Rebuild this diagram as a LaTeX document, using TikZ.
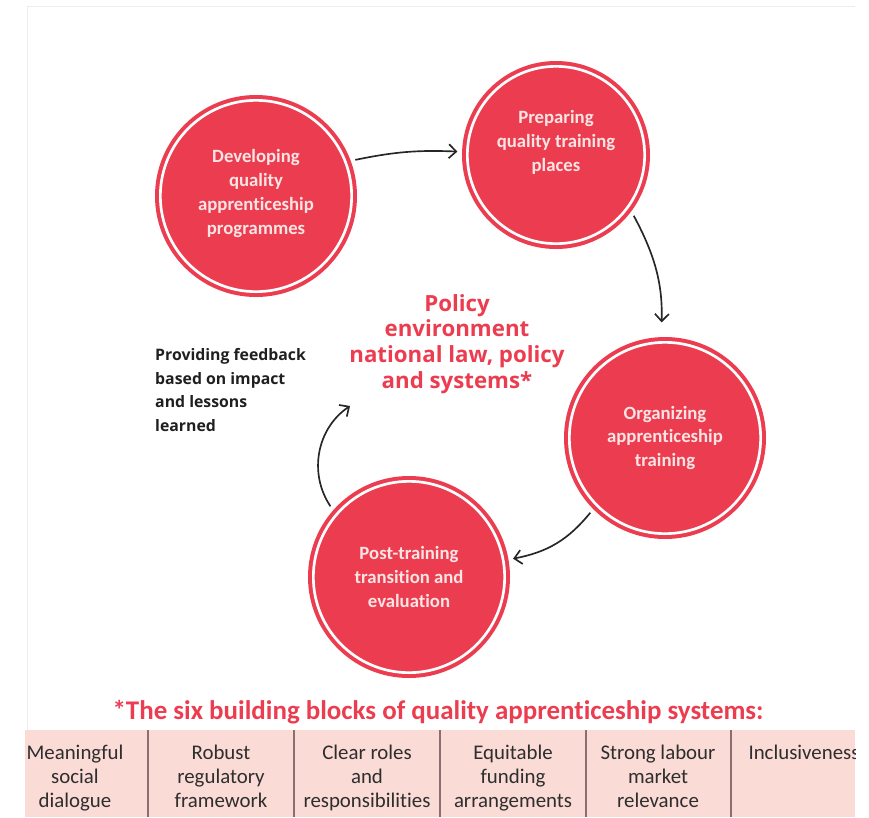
\documentclass[tikz,border=0pt]{standalone}
\usepackage{fontspec}
\setmainfont{Carlito}[Ligatures=NoCommon]
\newfontfamily\opensans{Open Sans}
\usetikzlibrary{arrows.meta}

\definecolor{blockred}{HTML}{EC3D50}
\definecolor{stagetext}{HTML}{FBE4E4}
\definecolor{tablefill}{HTML}{FADBD6}
\definecolor{tablerule}{HTML}{8C6E6E}
\definecolor{tableink}{HTML}{2E2E2E}

\tikzset{
	stage/.style={circle, fill=blockred, draw=blockred, line width=1.2mm,
		double=white, double distance=0.8mm, minimum size=#1, inner sep=0pt,
		outer sep=3mm, text=stagetext, align=center,
		font=\bfseries\fontsize{16}{20.4}\selectfont},
	stage/.default=57.4mm,
	flow/.style={-{Straight Barb[length=2.2mm,width=4.2mm]}, line width=0.5mm, black!85},
	policy/.style={text=blockred, align=center, font=\opensans\bfseries\fontsize{19}{22}\selectfont},
	feedback/.style={text=black!88, align=left, anchor=west, inner sep=0pt,
		font=\opensans\bfseries\fontsize{13.5}{20.4}\selectfont},
	blocktitle/.style={text=blockred, font=\bfseries\fontsize{23}{26}\selectfont},
	blockcell/.style={text=tableink, align=center, anchor=north, inner sep=0pt,
		font=\fontsize{17.8}{20.4}\selectfont}
}

\begin{document}
\begin{tikzpicture}[x=0.3mm, y=-0.3mm]
	%%%%% START %%%%%
	\useasboundingbox (0, 0) rectangle (869, 817);
	
	\draw[black!7] (27, 817) -- (27, 6) -- (855, 6);
	
	\node[stage] (dev) at (256, 196) {Developing\\quality\\apprenticeship\\programmes\\[-14pt]\mbox{}};
	\node[stage=53.2mm] (prep) at (556, 155) {Preparing\\quality training\\places\\[3pt]\mbox{}};
	\node[stage] (org) at (665, 438) {Organizing\\apprenticeship\\training};
	\node[stage] (post) at (409, 577) {Post-training\\transition and\\evaluation};
	
	\node[policy] (env) at (457, 344) {Policy\\environment\\national law, policy\\and systems*};
	\node[feedback] (fbtext) at (155, 390) {Providing feedback\\based on impact\\and lessons\\learned};
	\coordinate (fbend) at (350, 406);
	
	\draw[flow] (dev.20) to[bend left=7] (prep.178);
	\draw[flow, shorten >=3mm] (prep.-38) to[bend left=15] (org.92);
	\draw[flow] (org.-135) to[bend left=20] (post.10);
	\draw[flow] (post.138) to[bend left=45] (fbend);
	
	% building blocks
	\node[blocktitle] (blocks) at (438, 712) {*The six building blocks of quality apprenticeship systems:};
	
	\begin{scope}
		\clip (25, 730) rectangle (855, 817);
		\fill[tablefill] (25, 730) rectangle (855, 817);
		\foreach \x in {148, 294, 440, 586, 731}
			\draw[tablerule, line width=0.35mm] (\x, 730) -- (\x, 817);
		\node[blockcell] (b1) at (75, 745) {Meaningful\\social\\dialogue};
		\node[blockcell] (b2) at (221, 745) {Robust\\regulatory\\framework};
		\node[blockcell] (b3) at (367, 745) {Clear roles\\and\\responsibilities};
		\node[blockcell] (b4) at (513, 745) {Equitable\\funding\\arrangements};
		\node[blockcell] (b5) at (658, 745) {Strong labour\\market\\relevance};
		\node[blockcell] (b6) at (804, 745) {Inclusiveness};
	\end{scope}
	
	%%%%% END %%%%%
\end{tikzpicture}
\end{document}
